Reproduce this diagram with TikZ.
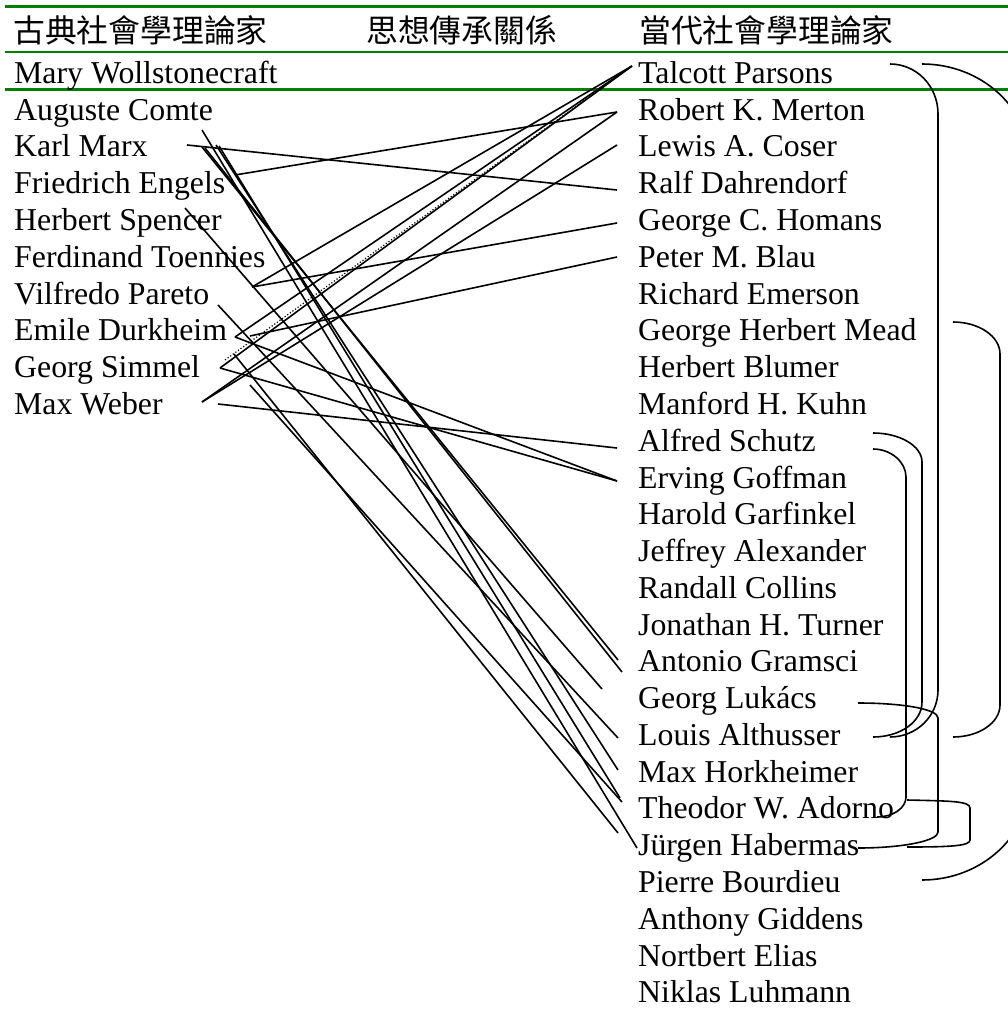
\documentclass[tikz,border=0pt]{standalone}
\usepackage{fontspec}
\setmainfont{Liberation Serif}
\newfontfamily\cjk{Noto Sans CJK TC}
\definecolor{rulegreen}{RGB}{0,128,0}
\tikzset{
 person/.style={font=\fontsize{31.8pt}{36pt}\selectfont, inner sep=0pt, anchor=base west},
 head/.style={font=\cjk\fontsize{31.8pt}{36pt}\selectfont, inner sep=0pt, anchor=base west},
 rule/.style={draw=rulegreen, line width=2.5pt},
 link/.style={draw=black, line width=1.6pt},
 dotlink/.style={draw=black, line width=1.2pt, dotted},
 bracket/.style={draw=black, line width=1.6pt}
}
\begin{document}
\begin{tikzpicture}[x=1pt,y=-1pt]
\useasboundingbox (0,0) rectangle (1008,1011);
\clip (0,0) rectangle (1008,1011);
% green rules
\coordinate (ra1) at (5,6.5);  \coordinate (ra2) at (1008,6.5);
\coordinate (rb1) at (5,52);   \coordinate (rb2) at (1008,52);
\coordinate (rc1) at (5,89.5); \coordinate (rc2) at (1008,89.5);
\draw[rule, line width=3pt] (ra1) -- (ra2);
\draw[rule] (rb1) -- (rb2);
\draw[rule] (rc1) -- (rc2);
% headers
\node[head] (h1) at (13,43) {古典社會學理論家};
\node[head] (h2) at (366,43) {思想傳承關係};
\node[head] (h3) at (639,43) {當代社會學理論家};
% left column
\node[person] (mary)  at (14,83.5)  {Mary Wollstonecraft};
\node[person] (comte) at (14,120.3) {Auguste Comte};
\node[person] (marx)  at (14,157) {Karl Marx};
\node[person] (engels) at (14,193.8) {Friedrich Engels};
\node[person] (spencer) at (14,230.6) {Herbert Spencer};
\node[person] (toen)  at (14,267.4) {Ferdinand Toennies};
\node[person] (pareto) at (14,304.1) {Vilfredo Pareto};
\node[person] (durk)  at (14,340.9) {Emile Durkheim};
\node[person] (simmel) at (14,377.7) {Georg Simmel};
\node[person] (weber) at (14,414.4) {Max Weber};
% right column
\node[person] (parsons) at (638,83.5)  {Talcott Parsons};
\node[person] (merton)  at (638,120.3) {Robert K. Merton};
\node[person] (coser)   at (638,157) {Lewis A. Coser};
\node[person] (dahr)    at (638,193.8) {Ralf Dahrendorf};
\node[person] (homans)  at (638,230.6) {George C. Homans};
\node[person] (blau)    at (638,267.4) {Peter M. Blau};
\node[person] (emerson) at (638,304.1) {Richard Emerson};
\node[person] (mead)    at (638,340.9) {George Herbert Mead};
\node[person] (blumer)  at (638,377.7) {Herbert Blumer};
\node[person] (kuhn)    at (638,414.4) {Manford H. Kuhn};
\node[person] (schutz)  at (638,451.2) {Alfred Schutz};
\node[person] (goffman) at (638,488) {Erving Goffman};
\node[person] (garf)    at (638,524.7) {Harold Garfinkel};
\node[person] (alex)    at (638,561.5) {Jeffrey Alexander};
\node[person] (collins) at (638,598.3) {Randall Collins};
\node[person] (turner)  at (638,635.1) {Jonathan H. Turner};
\node[person] (gramsci) at (638,671.8) {Antonio Gramsci};
\node[person] (lukacs)  at (638,708.6) {Georg Lukács};
\node[person] (alth)    at (638,745.4) {Louis Althusser};
\node[person] (hork)    at (638,782.1) {Max Horkheimer};
\node[person] (adorno)  at (638,818.9) {Theodor W. Adorno};
\node[person] (haber)   at (638,855.7) {Jürgen Habermas};
\node[person] (bourd)   at (638,892.4) {Pierre Bourdieu};
\node[person] (gidd)    at (638,929.2) {Anthony Giddens};
\node[person] (elias)   at (638,966) {Nortbert Elias};
\node[person] (luhm)    at (638,1002.5) {Niklas Luhmann};
% left ports
\coordinate (comteP) at (202,130);
\coordinate (marxA) at (187,145);
\coordinate (marxB) at (202,147);
\coordinate (marxC) at (205,148);
\coordinate (marxD) at (216,145);
\coordinate (marxE) at (219,146);
\coordinate (engelsP) at (235,175);
\coordinate (spencerP) at (185,208);
\coordinate (toenP) at (252,287);
\coordinate (paretoP) at (218,305);
\coordinate (durkP) at (235,337);
\coordinate (durkQ) at (250,336);
\coordinate (dotP) at (225,360);
\coordinate (simP) at (220,368);
\coordinate (simQ) at (234,354);
\coordinate (simR) at (250,385);
\coordinate (weberP) at (202,402);
\coordinate (weberQ) at (218,404);
% right ports
\coordinate (talP) at (632,66);
\coordinate (merP) at (617,112);
\coordinate (cosP) at (617,145);
\coordinate (dahP) at (617,190);
\coordinate (homP) at (617,223);
\coordinate (blauP) at (617,257);
\coordinate (schP) at (617,448);
\coordinate (gofP) at (617,481);
\coordinate (graA) at (618,660);
\coordinate (graB) at (622,672);
\coordinate (lukP) at (602,689);
\coordinate (altP) at (618,738);
\coordinate (horP) at (618,770);
\coordinate (adoA) at (620,798);
\coordinate (adoB) at (622,802);
\coordinate (adoC) at (618,833);
\coordinate (habP) at (637,848);
% connectors
\draw[link] (marxA) -- (dahP);
\draw[link] (engelsP) -- (merP);
\draw[link] (comteP) -- (habP);
\draw[link] (marxB) -- (graA);
\draw[link] (marxC) -- (graB);
\draw[link] (marxD) -- (horP);
\draw[link] (marxE) -- (adoA);
\draw[link] (spencerP) -- (lukP);
\draw[link] (paretoP) -- (altP);
\draw[link] (simQ) -- (adoC);
\draw[link] (simR) -- (adoB);
\draw[link] (toenP) -- (talP);
\draw[link] (toenP) -- (homP);
\draw[link] (durkP) -- (talP);
\draw[link] (durkP) -- (gofP);
\draw[link] (durkQ) -- (blauP);
\draw[dotlink] (dotP) -- (talP);
\draw[link] (simP) -- (talP);
\draw[link] (simP) -- (gofP);
\draw[link] (weberP) -- (merP);
\draw[link] (weberP) -- (cosP);
\draw[link] (weberQ) -- (schP);
% brackets
\coordinate (b1s) at (890,64);  \coordinate (b1e) at (890,737);
\draw[bracket] (b1s) .. controls (916.5,64) and (938,86) .. (938,114) -- (938,690) .. controls (938,716) and (916.5,737) .. (b1e);
\coordinate (b7s) at (922,64);  \coordinate (b7e) at (922,880);
\draw[bracket] (b7s) .. controls (981.6,64) and (1030,108.3) .. (1030,163) -- (1030,781) .. controls (1030,835.7) and (981.6,880) .. (b7e);
\coordinate (b6s) at (953,322); \coordinate (b6e) at (953,737);
\draw[bracket] (b6s) .. controls (979,322) and (1000,336.3) .. (1000,354) -- (1000,705) .. controls (1000,722.7) and (979,737) .. (b6e);
\coordinate (b2s) at (873,433); \coordinate (b2e) at (873,737);
\draw[bracket] (b2s) .. controls (900,433) and (922,446) .. (922,462) -- (922,702) .. controls (922,722) and (900,737) .. (b2e);
\coordinate (b3s) at (873,449); \coordinate (b3e) at (877,817);
\draw[bracket] (b3s) .. controls (891,449) and (906,462) .. (906,477) -- (906,797) .. controls (906,808) and (893,817) .. (b3e);
\coordinate (b4s) at (858,703); \coordinate (b4e) at (858,848);
\draw[bracket] (b4s) .. controls (902,703) and (938,709) .. (938,718) -- (938,832) .. controls (938,841) and (902,848) .. (b4e);
\coordinate (b5s) at (907,800); \coordinate (b5e) at (907,847);
\draw[bracket] (b5s) .. controls (950,801) and (970,801) .. (970,808) -- (970,840) .. controls (970,846) and (950,847) .. (b5e);
\end{tikzpicture}
\end{document}
